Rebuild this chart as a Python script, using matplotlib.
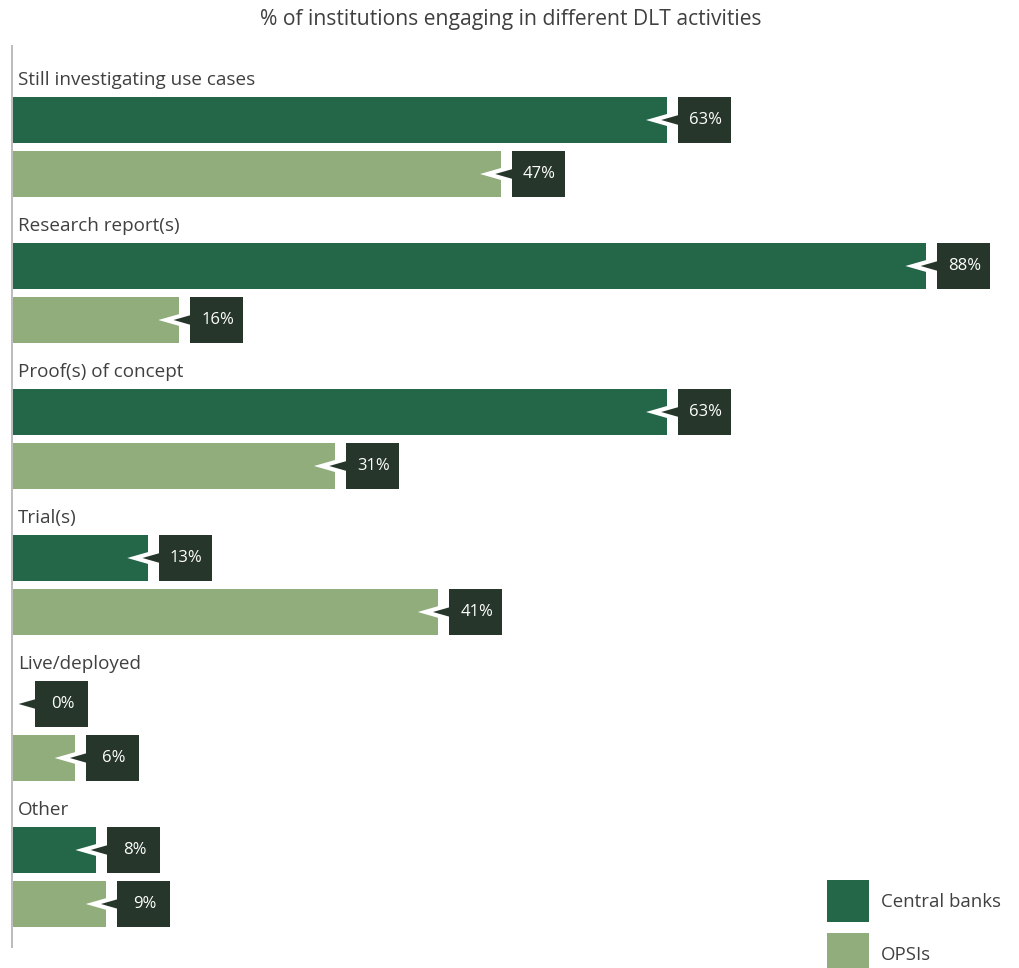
import matplotlib.pyplot as plt
from matplotlib.patches import Polygon, Rectangle

categories = ["Still investigating use cases", "Research report(s)", "Proof(s) of concept",
              "Trial(s)", "Live/deployed", "Other"]
central_banks = [63, 88, 63, 13, 0, 8]
opsis = [47, 16, 31, 41, 6, 9]
series_names = ["Central banks", "OPSIs"]

cb_color = "#246648"
opsi_color = "#90ad7b"
box_color = "#26362a"
text_color = "#404040"

plt.rcParams['font.family'] = ['Open Sans', 'DejaVu Sans']

W, H = 1019, 968
px_per_pct = 10.375
fig = plt.figure(figsize=(W / 100, H / 100), dpi=100)
left = 13 / W
ax = fig.add_axes([left, 0, 1 - left, 1])
ax.set_xlim(0, (W - 13) / px_per_pct)
ax.set_ylim(H, 0)
ax.axis("off")

bar_h = 46
group_gap = 146
first_center = 120
px = 1 / px_per_pct  # one pixel in data units (x)


def value_label(value, yc):
    box_left = max(value + 11 * px, 22 * px)
    box_w = 53 * px
    tip = box_left - 24 * px
    tri = Polygon([(box_left + 4 * px, yc - 8), (tip, yc), (box_left + 4 * px, yc + 8)],
                  closed=True, facecolor=box_color, edgecolor="white", linewidth=3,
                  joinstyle="miter", zorder=3)
    ax.add_patch(tri)
    ax.add_patch(Rectangle((box_left, yc - bar_h / 2), box_w, bar_h,
                           facecolor=box_color, edgecolor="none", zorder=4))
    ax.text(box_left + box_w / 2 + 1 * px, yc, f"{value}%", color="white", fontsize=12,
            ha="center", va="center", zorder=5)


for i, cat in enumerate(categories):
    y_cb = first_center + group_gap * i
    y_op = y_cb + 54
    ax.barh(y_cb, central_banks[i], height=bar_h, color=cb_color, zorder=2)
    ax.barh(y_op, opsis[i], height=bar_h, color=opsi_color, zorder=2)
    value_label(central_banks[i], y_cb)
    value_label(opsis[i], y_op)
    ax.text(5 * px, y_cb - 40, cat, fontsize=13.6, color=text_color, ha="left", va="center")

ax.vlines(-1 * px, 45, 948, color="#b0b0b0", linewidth=1.2, clip_on=False)

fig.text(511 / W, 1 - 20 / H, "% of institutions engaging in different DLT activities",
         fontsize=15.2, color=text_color, ha="center", va="center")

# legend
for j, (name, col) in enumerate(zip(series_names, [cb_color, opsi_color])):
    ytop = 880 + 53 * j
    ax.add_patch(Rectangle(((827 - 13) * px, ytop), 42 * px, 42, facecolor=col,
                           edgecolor="none", clip_on=False))
    ax.text((881 - 13) * px, ytop + 22, name, fontsize=13.4, color=text_color,
            ha="left", va="center")

fig.savefig("out.png", dpi=100)
